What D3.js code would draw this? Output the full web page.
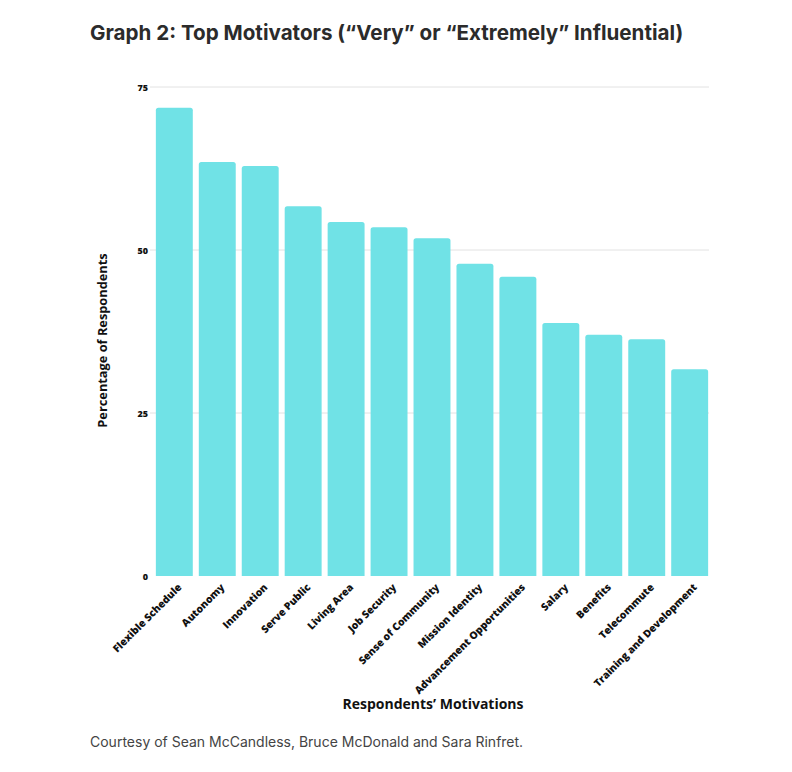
<!DOCTYPE html>
<html>
<head>
<meta charset="utf-8">
<script src="https://cdn.jsdelivr.net/npm/d3@7"></script>
<style>
  body { margin: 0; background: #fff; }
  .title { font-family: Inter, Roboto, sans-serif; font-weight: 700; font-size: 20.6px; fill: #2b2b2b; }
  .caption { font-family: Inter, Roboto, sans-serif; font-size: 14px; fill: #444; }
  .axis text { font-family: "Open Sans", sans-serif; font-weight: 800; font-size: 9px; fill: #111; }
  .axis.x text { font-size: 10.3px; }
  .axis-label { font-family: "Open Sans", sans-serif; font-weight: 700; font-size: 12.8px; fill: #111; }
</style>
</head>
<body>
<div id="chart"></div>
<script>
// data
const categories = ["Flexible Schedule", "Autonomy", "Innovation", "Serve Public", "Living Area",
  "Job Security", "Sense of Community", "Mission Identity", "Advancement Opportunities",
  "Salary", "Benefits", "Telecommute", "Training and Development"];
const values = [71.8, 63.5, 62.9, 56.7, 54.3, 53.5, 51.8, 47.9, 45.9, 38.8, 37.0, 36.3, 31.7];
const yTicks = [0, 25, 50, 75];

const width = 792, height = 772;
const margin = { left: 155, right: 83, top: 87, bottom: 196 };

const svg = d3.select("#chart").append("svg")
  .attr("width", width)
  .attr("height", height);

svg.append("text").attr("class", "title")
  .attr("x", 90).attr("y", 40)
  .text("Graph 2: Top Motivators (\u201cVery\u201d or \u201cExtremely\u201d Influential)");

const x = d3.scaleBand()
  .domain(categories)
  .range([margin.left, width - margin.right])
  .paddingInner(0.14)
  .paddingOuter(0.02);

const y = d3.scaleLinear()
  .domain([0, 75])
  .range([height - margin.bottom, margin.top]);

// gridlines
svg.append("g")
  .selectAll("line")
  .data(yTicks.filter(d => d > 0))
  .enter()
  .append("line")
  .attr("x1", 150)
  .attr("x2", width - margin.right)
  .attr("y1", d => y(d))
  .attr("y2", d => y(d))
  .attr("stroke", "#e2e2e2")
  .attr("stroke-width", 1);

// y axis
const yAxis = svg.append("g")
  .attr("class", "axis")
  .attr("transform", `translate(${margin.left - 7},0)`)
  .call(d3.axisLeft(y).tickValues(yTicks).tickSize(0).tickPadding(0));
yAxis.select(".domain").remove();
yAxis.selectAll("text").attr("dy", "0.35em");

// bars
svg.append("g")
  .selectAll("path")
  .data(values)
  .enter()
  .append("path")
  .attr("fill", "#70e2e6")
  .attr("d", function (d, i) {
    const x0 = x(categories[i]), w = x.bandwidth();
    const y0 = y(d), y1 = y(0), r = 2.5;
    return `M${x0},${y1}V${y0 + r}Q${x0},${y0} ${x0 + r},${y0}H${x0 + w - r}Q${x0 + w},${y0} ${x0 + w},${y0 + r}V${y1}Z`;
  });

// x axis
const xAxis = svg.append("g")
  .attr("class", "axis x")
  .attr("transform", `translate(0,${y(0)})`)
  .call(d3.axisBottom(x).tickSize(0).tickPadding(0));
xAxis.select(".domain").remove();
xAxis.selectAll("text")
  .attr("text-anchor", "end")
  .attr("dy", 0)
  .attr("transform", "translate(8,12) rotate(-45)");

// axis titles
svg.append("text").attr("class", "axis-label")
  .attr("transform", `translate(107,${(y(0) + y(75)) / 2 + 9}) rotate(-90)`)
  .attr("text-anchor", "middle")
  .text("Percentage of Respondents");

svg.append("text").attr("class", "axis-label")
  .attr("x", 433).attr("y", 709)
  .attr("text-anchor", "middle")
  .style("font-size", "14px")
  .text("Respondents\u2019 Motivations");

svg.append("text").attr("class", "caption")
  .attr("x", 90).attr("y", 747)
  .text("Courtesy of Sean McCandless, Bruce McDonald and Sara Rinfret.");
</script>
</body>
</html>
